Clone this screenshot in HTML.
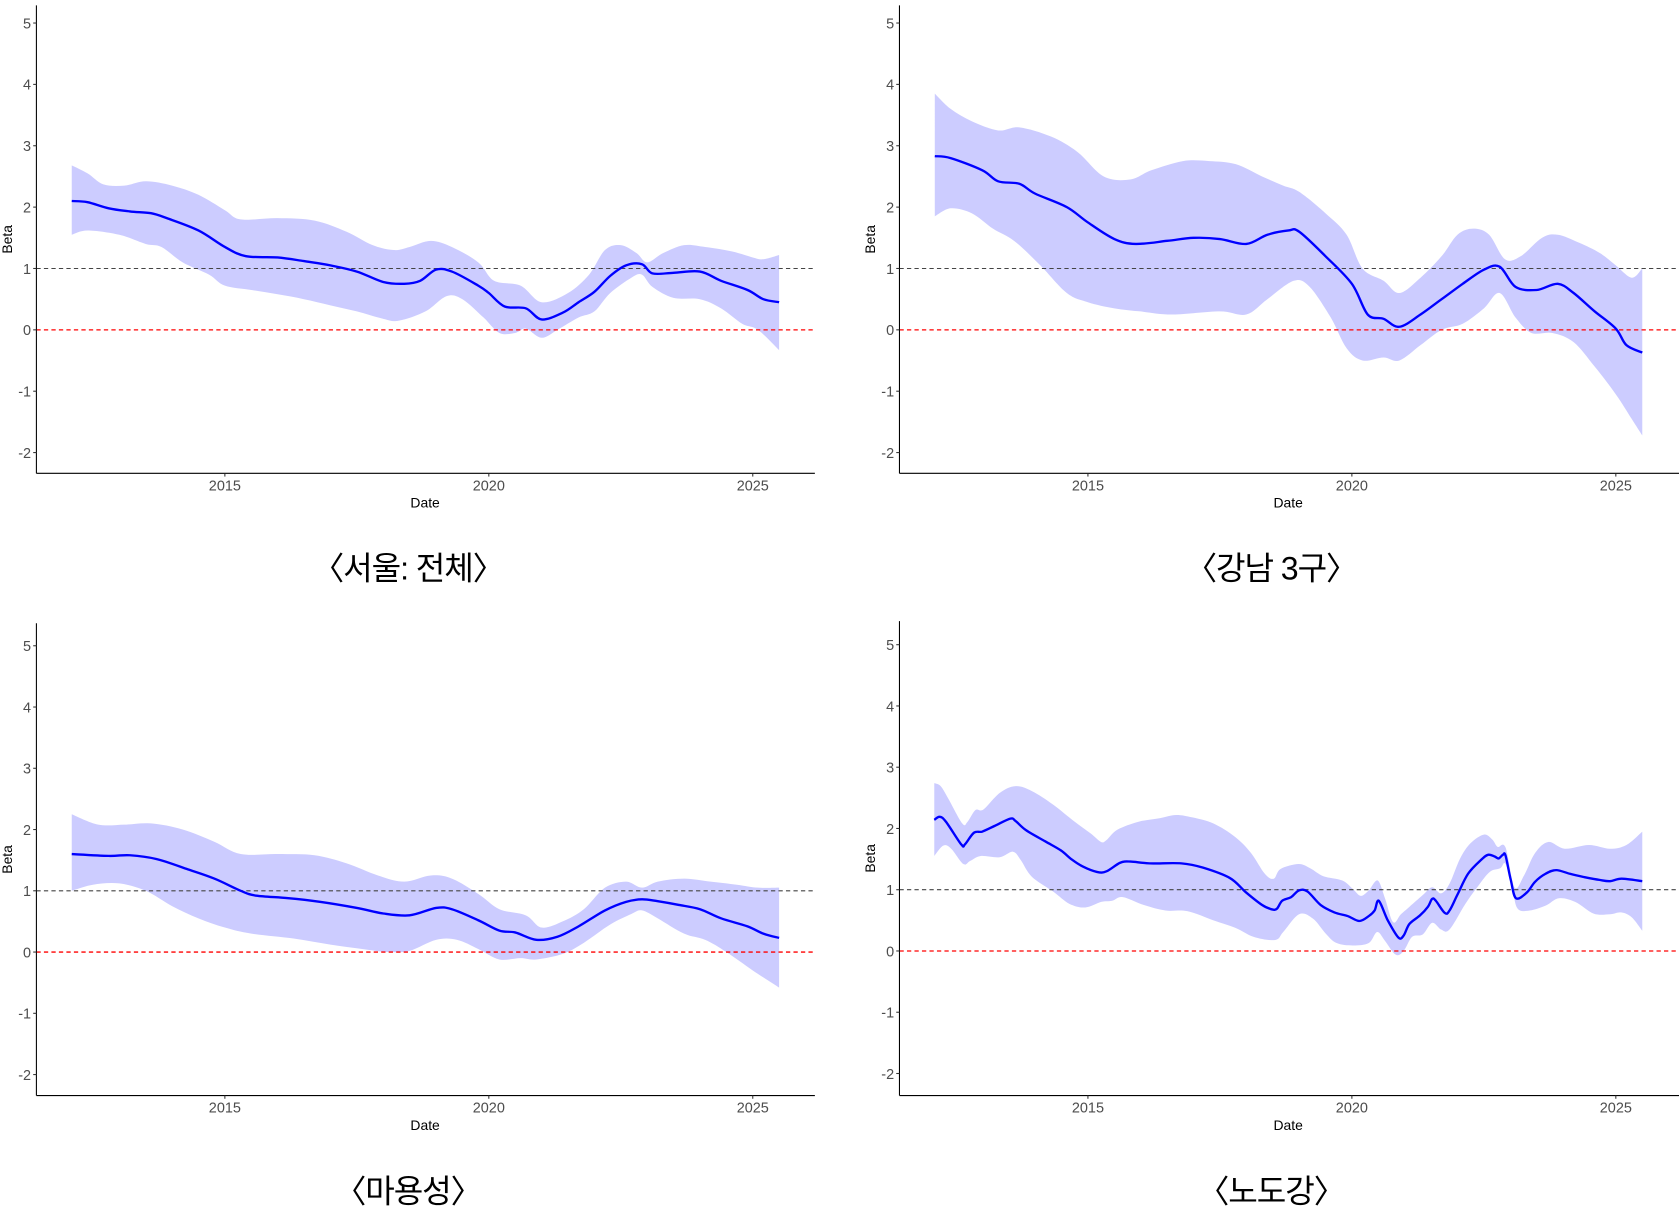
<!DOCTYPE html>
<html><head><meta charset="utf-8"><style>
html,body{margin:0;padding:0;background:#fff}
svg{display:block}
text{font-family:"Liberation Sans","Noto Sans CJK KR",sans-serif}
</style></head><body>
<svg id="s" width="1679" height="1208" viewBox="0 0 1568 1128" preserveAspectRatio="none" xmlns="http://www.w3.org/2000/svg"></svg>
<script>
const S=document.getElementById('s');
const NS='http://www.w3.org/2000/svg';
function el(t,a,txt){const e=document.createElementNS(NS,t);for(const k in a)e.setAttribute(k,a[k]);if(txt!==undefined)e.textContent=txt;S.appendChild(e);return e;}
function P(s){const a=s.trim().split(/\s+/).map(Number);const r=[];for(let i=0;i<a.length;i+=2)r.push([a[i],a[i+1]]);return r;}
function cr(p,start){let d=start?('M'+p[0][0].toFixed(1)+','+p[0][1].toFixed(1)):('L'+p[0][0].toFixed(1)+','+p[0][1].toFixed(1));
 for(let i=0;i<p.length-1;i++){const p0=p[Math.max(0,i-1)],p1=p[i],p2=p[i+1],p3=p[Math.min(p.length-1,i+2)];
  const c1=[p1[0]+(p2[0]-p0[0])/6,p1[1]+(p2[1]-p0[1])/6],c2=[p2[0]-(p3[0]-p1[0])/6,p2[1]-(p3[1]-p1[1])/6];
  d+=`C${c1[0].toFixed(1)},${c1[1].toFixed(1)} ${c2[0].toFixed(1)},${c2[1].toFixed(1)} ${p2[0].toFixed(1)},${p2[1].toFixed(1)}`;}
 return d;}
const panels=[
{dx:0,y0:308,u:57.3,top:5,bot:442,right:761,title:"〈서울: 전체〉",ty:530,
m:P("2012.1 2.1 2012.4 2.08 2012.8 1.98 2013.2 1.93 2013.6 1.9 2013.9 1.82 2014.5 1.62 2015.0 1.35 2015.4 1.2 2016.0 1.18 2016.5 1.12 2017.0 1.05 2017.5 0.95 2018.0 0.78 2018.4 0.75 2018.7 0.8 2019.0 0.98 2019.3 0.95 2019.8 0.72 2020.0 0.6 2020.3 0.38 2020.7 0.35 2021.0 0.17 2021.4 0.28 2021.7 0.45 2022.0 0.62 2022.3 0.88 2022.6 1.05 2022.9 1.07 2023.1 0.92 2023.5 0.93 2024.0 0.95 2024.4 0.8 2024.9 0.65 2025.2 0.5 2025.5 0.45"),
h:P("2012.1 2.68 2012.4 2.55 2012.7 2.37 2013.1 2.35 2013.5 2.42 2014.0 2.35 2014.5 2.2 2015.0 1.95 2015.3 1.8 2016.0 1.82 2016.7 1.78 2017.3 1.6 2017.8 1.38 2018.2 1.3 2018.5 1.35 2018.9 1.45 2019.3 1.35 2019.8 1.1 2020.1 0.8 2020.6 0.72 2021.0 0.45 2021.5 0.6 2021.9 0.9 2022.2 1.3 2022.5 1.38 2022.8 1.25 2023.0 1.1 2023.3 1.25 2023.7 1.38 2024.1 1.35 2024.6 1.28 2025.0 1.18 2025.2 1.15 2025.5 1.22"),
l:P("2012.1 1.55 2012.4 1.62 2013.0 1.55 2013.5 1.4 2013.8 1.35 2014.2 1.1 2014.7 0.9 2015.0 0.72 2015.5 0.65 2016.0 0.58 2016.5 0.5 2017.0 0.4 2017.5 0.3 2018.0 0.18 2018.3 0.15 2018.8 0.3 2019.2 0.55 2019.5 0.5 2019.9 0.2 2020.2 -0.05 2020.5 -0.05 2020.7 0.02 2021.0 -0.13 2021.3 0.0 2021.7 0.2 2022.0 0.3 2022.3 0.6 2022.7 0.85 2022.9 0.9 2023.1 0.7 2023.5 0.52 2024.0 0.5 2024.4 0.35 2024.8 0.1 2025.1 0.0 2025.5 -0.33")},
{dx:806,y0:308,u:57.3,top:5,bot:442,right:1568,title:"〈강남 3구〉",ty:530,
m:P("2012.1 2.83 2012.4 2.8 2013.0 2.6 2013.3 2.42 2013.7 2.38 2014.0 2.22 2014.6 2.0 2015.0 1.75 2015.5 1.48 2015.9 1.4 2016.5 1.45 2017.0 1.5 2017.5 1.48 2018.0 1.4 2018.4 1.55 2018.8 1.62 2019.0 1.6 2019.5 1.2 2020.0 0.75 2020.3 0.25 2020.6 0.18 2020.9 0.05 2021.3 0.25 2021.7 0.5 2022.1 0.75 2022.5 0.98 2022.8 1.03 2023.1 0.7 2023.5 0.65 2023.9 0.75 2024.2 0.6 2024.6 0.3 2025.0 0.02 2025.2 -0.25 2025.5 -0.37"),
h:P("2012.1 3.85 2012.4 3.6 2012.8 3.4 2013.3 3.25 2013.7 3.3 2014.3 3.15 2014.8 2.9 2015.3 2.5 2015.8 2.45 2016.2 2.6 2016.8 2.75 2017.3 2.75 2017.8 2.7 2018.3 2.5 2018.7 2.35 2019.0 2.25 2019.5 1.9 2019.9 1.55 2020.2 1.0 2020.6 0.8 2020.9 0.6 2021.3 0.85 2021.7 1.2 2022.0 1.55 2022.3 1.65 2022.6 1.55 2022.9 1.15 2023.2 1.2 2023.6 1.5 2023.9 1.55 2024.3 1.42 2024.7 1.25 2025.0 1.05 2025.3 0.85 2025.5 1.0"),
l:P("2012.1 1.85 2012.4 1.98 2012.8 1.9 2013.2 1.65 2013.6 1.45 2014.1 1.05 2014.6 0.6 2015.0 0.45 2015.5 0.35 2016.0 0.3 2016.6 0.25 2017.5 0.3 2018.0 0.25 2018.4 0.5 2018.9 0.8 2019.2 0.7 2019.6 0.2 2019.9 -0.3 2020.2 -0.5 2020.6 -0.45 2020.9 -0.5 2021.3 -0.25 2021.7 0.0 2022.1 0.1 2022.5 0.35 2022.8 0.6 2023.1 0.2 2023.4 -0.05 2023.8 -0.05 2024.2 -0.2 2024.6 -0.6 2025.0 -1.05 2025.3 -1.45 2025.5 -1.72")},
{dx:0,y0:889,u:57.2,top:582,bot:1023,right:761,title:"〈마용성〉",ty:1112,
m:P("2012.1 1.6 2012.8 1.57 2013.2 1.58 2013.7 1.52 2014.3 1.35 2014.8 1.2 2015.3 1.0 2015.6 0.92 2016.2 0.88 2016.8 0.82 2017.5 0.72 2018.0 0.63 2018.5 0.6 2019.0 0.72 2019.3 0.7 2019.8 0.52 2020.2 0.35 2020.5 0.32 2020.9 0.2 2021.3 0.25 2021.7 0.42 2022.2 0.68 2022.6 0.82 2022.9 0.86 2023.2 0.83 2023.6 0.77 2024.0 0.7 2024.4 0.55 2024.9 0.42 2025.2 0.3 2025.5 0.23"),
h:P("2012.1 2.25 2012.6 2.08 2013.1 2.08 2013.6 2.1 2014.2 2.0 2014.8 1.8 2015.3 1.6 2016.0 1.6 2016.7 1.58 2017.3 1.45 2017.9 1.25 2018.4 1.15 2018.9 1.25 2019.3 1.2 2019.8 0.95 2020.2 0.7 2020.7 0.6 2021.0 0.4 2021.4 0.5 2021.8 0.7 2022.2 1.05 2022.6 1.15 2022.9 1.05 2023.2 1.15 2023.7 1.2 2024.2 1.15 2024.7 1.1 2025.1 1.05 2025.5 1.05"),
l:P("2012.1 1.0 2012.5 1.1 2013.0 1.12 2013.5 1.0 2014.0 0.75 2014.5 0.55 2015.0 0.4 2015.5 0.3 2016.3 0.22 2017.0 0.12 2017.6 0.05 2018.1 0.0 2018.5 0.02 2019.0 0.2 2019.4 0.2 2019.8 0.05 2020.2 -0.12 2020.6 -0.1 2020.9 -0.12 2021.4 -0.03 2021.8 0.15 2022.3 0.45 2022.7 0.62 2022.9 0.68 2023.2 0.55 2023.7 0.3 2024.1 0.2 2024.5 0.0 2025.0 -0.3 2025.5 -0.58")},
{dx:806,y0:888,u:57.2,top:580,bot:1023,right:1568,title:"〈노도강〉",ty:1112,
m:P("2012.09 2.14 2012.19 2.19 2012.31 2.11 2012.6 1.74 2012.67 1.74 2012.84 1.93 2013.0 1.95 2013.23 2.04 2013.53 2.16 2013.63 2.12 2013.83 1.97 2014.19 1.79 2014.49 1.64 2014.7 1.49 2014.9 1.38 2015.17 1.29 2015.35 1.30 2015.61 1.44 2015.81 1.46 2016.17 1.43 2016.77 1.43 2017.18 1.36 2017.69 1.19 2017.99 0.96 2018.3 0.75 2018.48 0.68 2018.58 0.69 2018.68 0.82 2018.85 0.88 2019.0 0.99 2019.16 0.97 2019.41 0.75 2019.67 0.63 2019.92 0.57 2020.14 0.49 2020.32 0.57 2020.43 0.66 2020.51 0.82 2020.68 0.50 2020.88 0.22 2020.98 0.25 2021.09 0.44 2021.29 0.58 2021.44 0.72 2021.52 0.85 2021.59 0.82 2021.76 0.62 2021.85 0.66 2022.0 0.92 2022.2 1.26 2022.45 1.49 2022.58 1.57 2022.71 1.54 2022.78 1.51 2022.86 1.57 2022.91 1.56 2023.01 1.16 2023.11 0.86 2023.32 0.96 2023.47 1.13 2023.67 1.26 2023.87 1.32 2024.13 1.26 2024.38 1.21 2024.69 1.16 2024.89 1.14 2025.11 1.18 2025.5 1.14"),
h:P("2012.09 2.74 2012.21 2.69 2012.36 2.48 2012.62 2.08 2012.72 2.11 2012.87 2.30 2013.02 2.31 2013.33 2.58 2013.63 2.69 2013.94 2.61 2014.34 2.39 2014.75 2.11 2015.05 1.92 2015.25 1.78 2015.35 1.81 2015.56 1.98 2015.96 2.11 2016.37 2.17 2016.67 2.22 2016.98 2.18 2017.38 2.08 2017.79 1.86 2018.09 1.60 2018.35 1.26 2018.52 1.18 2018.65 1.34 2018.99 1.42 2019.21 1.35 2019.46 1.22 2019.82 1.15 2020.02 1.01 2020.17 0.90 2020.32 0.99 2020.49 1.15 2020.63 0.85 2020.78 0.47 2020.93 0.60 2021.09 0.72 2021.34 0.91 2021.52 1.04 2021.69 0.94 2021.85 1.10 2022.05 1.51 2022.25 1.76 2022.5 1.90 2022.66 1.82 2022.76 1.70 2022.91 1.69 2023.08 1.04 2023.26 1.23 2023.47 1.60 2023.72 1.78 2024.03 1.67 2024.49 1.73 2024.89 1.67 2025.2 1.73 2025.5 1.95"),
l:P("2012.09 1.55 2012.26 1.72 2012.41 1.67 2012.64 1.42 2012.77 1.47 2012.97 1.55 2013.33 1.53 2013.58 1.62 2013.73 1.48 2013.94 1.21 2014.34 0.97 2014.65 0.77 2014.95 0.71 2015.25 0.80 2015.46 0.82 2015.66 0.88 2016.06 0.75 2016.47 0.66 2016.88 0.65 2017.38 0.50 2017.79 0.38 2018.14 0.23 2018.55 0.18 2018.7 0.31 2019.0 0.60 2019.26 0.53 2019.51 0.28 2019.71 0.13 2020.02 0.09 2020.32 0.13 2020.48 0.31 2020.63 0.16 2020.83 -0.06 2020.98 0.0 2021.14 0.23 2021.34 0.27 2021.52 0.46 2021.69 0.35 2021.85 0.35 2022.15 0.77 2022.4 1.07 2022.61 1.29 2022.81 1.35 2022.91 1.42 2023.04 1.01 2023.14 0.69 2023.37 0.66 2023.67 0.74 2023.92 0.86 2024.23 0.80 2024.58 0.61 2024.89 0.60 2025.1 0.63 2025.3 0.55 2025.5 0.33")}
];
for(const p of panels){
  const ax=34+p.dx;
  const X=y=>210+p.dx+(y-2015)*49.3, Y=b=>p.y0-b*p.u;
  const tp=a=>a.map(q=>[X(q[0]),Y(q[1])]);
  const hp=tp(p.h), lp=tp(p.l).reverse();
  el('path',{d:cr(hp,true)+cr(lp,false)+'Z',fill:'#ccccff',stroke:'none'});
  el('line',{x1:ax,x2:p.right,y1:Y(1),y2:Y(1),stroke:'#444','stroke-width':1,'stroke-dasharray':'4,3'});
  el('line',{x1:ax,x2:p.right,y1:Y(0),y2:Y(0),stroke:'#ff0000','stroke-width':1.2,'stroke-dasharray':'4,3'});
  el('path',{d:cr(tp(p.m),true),fill:'none',stroke:'#0000ff','stroke-width':2.2,'stroke-linejoin':'round'});
  el('line',{x1:ax,x2:ax,y1:p.top,y2:p.bot,stroke:'#000','stroke-width':1});
  el('line',{x1:ax,x2:p.right,y1:p.bot,y2:p.bot,stroke:'#000','stroke-width':1});
  for(let b=-2;b<=5;b++){
    el('line',{x1:ax-3,x2:ax,y1:Y(b),y2:Y(b),stroke:'#333'});
    el('text',{x:ax-5,y:Y(b)+5,'text-anchor':'end','font-size':13.5,fill:'#4d4d4d'},String(b));
  }
  for(const yr of [2015,2020,2025]){
    el('line',{x1:X(yr),x2:X(yr),y1:p.bot,y2:p.bot+3,stroke:'#333'});
    el('text',{x:X(yr),y:p.bot+16,'text-anchor':'middle','font-size':13.5,fill:'#4d4d4d'},String(yr));
  }
  el('text',{x:ax+363,y:p.bot+32,'text-anchor':'middle','font-size':13,fill:'#000'},'Date');
  const by=(p.top+p.bot)/2;
  el('text',{x:11+p.dx,y:by,'text-anchor':'middle','font-size':13,fill:'#000',transform:`rotate(-90 ${11+p.dx} ${by})`},'Beta');
  el('text',{x:381+p.dx,y:p.ty+11,'text-anchor':'middle','font-size':30,fill:'#000','letter-spacing':'-1'},p.title);
}
</script>
</body></html>
